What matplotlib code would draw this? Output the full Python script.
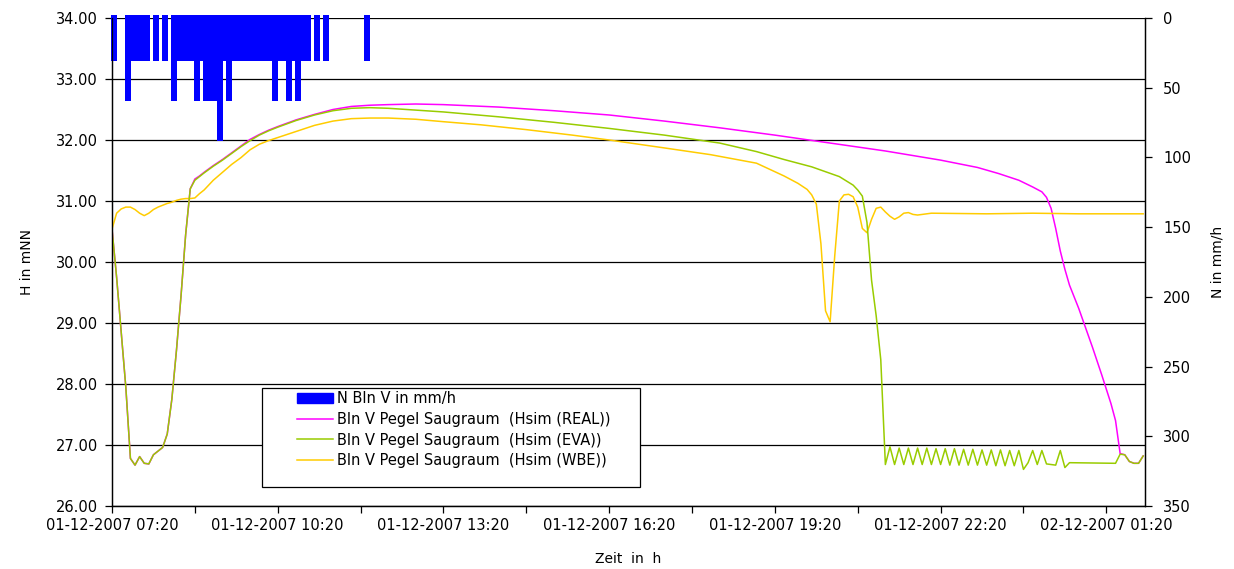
import datetime as dt
import matplotlib
matplotlib.use("Agg")
import matplotlib.pyplot as plt
import matplotlib.dates as mdates
from matplotlib.patches import Rectangle
from matplotlib.lines import Line2D
from matplotlib.ticker import FixedLocator, FormatStrFormatter

# ---------------- data ----------------
START = dt.datetime(2007, 12, 1, 7, 20)
END_MINUTES = 1122
RAIN_STEP_MINUTES = 5

x_tick_labels = ["01-12-2007 07:20", "01-12-2007 10:20", "01-12-2007 13:20",
                 "01-12-2007 16:20", "01-12-2007 19:20", "01-12-2007 22:20",
                 "02-12-2007 01:20"]
h_ticks = [26, 27, 28, 29, 30, 31, 32, 33, 34]
n_ticks = [0, 50, 100, 150, 200, 250, 300, 350]

# rain (N Bln V in mm/h), minutes after 07:20
rain_minutes = [0, 15, 20, 25, 30, 35, 45, 55,
                65, 70, 75, 80, 85, 90, 95, 100, 105, 110,
                115, 120, 125, 130, 135, 140, 145, 150, 155, 160,
                165, 170, 175, 180, 185, 190, 195, 200, 205, 210,
                220, 230, 275]
rain_values = [28.8, 57.6, 28.8, 28.8, 28.8, 28.8, 28.8, 28.8,
               57.6, 28.8, 28.8, 28.8, 28.8, 57.6, 28.8, 57.6, 57.6, 57.6,
               86.4, 28.8, 57.6, 28.8, 28.8, 28.8, 28.8, 28.8, 28.8, 28.8,
               28.8, 28.8, 57.6, 28.8, 28.8, 57.6, 28.8, 57.6, 28.8, 28.8,
               28.8, 28.8, 28.8]

# Hsim (REAL)
real_minutes = [0, 5, 10, 15, 20, 25, 30, 35, 40, 45, 50, 55, 60, 65, 70, 75,
                80, 85, 90, 95, 100, 110, 120, 130, 140, 150, 160, 170, 180,
                200, 220, 240, 260, 280, 300, 330, 360, 420, 480, 540, 600,
                660, 720, 780, 840, 900, 940, 963, 985, 1000, 1010, 1015,
                1020, 1025, 1030, 1035, 1040, 1050, 1065, 1075, 1085, 1090,
                1095, 1100, 1105, 1110, 1115, 1120]
real_values = [30.54, 29.75, 28.85, 27.95, 26.78, 26.67, 26.81, 26.70, 26.69,
               26.84, 26.90, 26.96, 27.18, 27.75, 28.55, 29.45, 30.45, 31.20,
               31.36, 31.41, 31.47, 31.58, 31.68, 31.79, 31.90, 32.01, 32.09,
               32.16, 32.22, 32.33, 32.42, 32.50, 32.55, 32.57, 32.58, 32.59,
               32.58, 32.54, 32.48, 32.41, 32.31, 32.20, 32.08, 31.95, 31.82,
               31.67, 31.55, 31.45, 31.34, 31.23, 31.15, 31.06, 30.88, 30.55,
               30.18, 29.88, 29.62, 29.24, 28.60, 28.15, 27.68, 27.40, 26.86,
               26.84, 26.73, 26.70, 26.70, 26.82]

# Hsim (EVA)
eva_minutes = [0, 5, 10, 15, 20, 25, 30, 35, 40, 45, 50, 55, 60, 65, 70, 75,
               80, 85, 90, 95, 100, 110, 120, 130, 140, 150, 160, 170, 180,
               200, 220, 240, 260, 280, 300, 330, 360, 420, 480, 540, 600,
               660, 700, 730, 760, 790, 805, 810, 815, 820, 825, 830, 835,
               840, 845, 850, 855, 860, 865, 870, 875, 880, 885, 890, 895,
               900, 905, 910, 915, 920, 925, 930, 935, 940, 945, 950, 955,
               960, 965, 970, 975, 980, 985, 990, 995, 1000, 1005, 1010,
               1015, 1020, 1025, 1030, 1035, 1040, 1090, 1095, 1100, 1105,
               1110, 1115, 1120]
eva_values = [30.54, 29.75, 28.85, 27.95, 26.78, 26.67, 26.81, 26.70, 26.69,
              26.84, 26.90, 26.96, 27.18, 27.75, 28.55, 29.45, 30.45, 31.20,
              31.34, 31.40, 31.46, 31.57, 31.67, 31.78, 31.89, 31.99, 32.08,
              32.15, 32.21, 32.32, 32.41, 32.48, 32.52, 32.53, 32.52, 32.49,
              32.46, 32.38, 32.29, 32.19, 32.08, 31.95, 31.81, 31.68, 31.56,
              31.40, 31.26, 31.18, 31.08, 30.65, 29.70, 29.12, 28.40,
              26.68, 26.97, 26.68, 26.95, 26.68, 26.95, 26.68, 26.95, 26.68,
              26.95, 26.68, 26.94, 26.68, 26.94, 26.67, 26.94, 26.67, 26.93,
              26.67, 26.93, 26.67, 26.92, 26.67, 26.92, 26.66, 26.92, 26.66,
              26.91, 26.66, 26.91, 26.60, 26.71, 26.91, 26.68, 26.91, 26.69,
              26.68, 26.67, 26.91, 26.63, 26.71, 26.70, 26.85, 26.84, 26.73,
              26.70, 26.70, 26.82]

# Hsim (WBE)
wbe_minutes = [0, 5, 10, 15, 20, 25, 30, 35, 40, 45, 50, 55, 60, 65, 70, 75,
               80, 85, 90, 95, 100, 105, 110, 120, 130, 140, 150, 160, 170,
               180, 200, 220, 240, 260, 280, 300, 330, 360, 400, 450, 500,
               540, 600, 650, 700, 720, 730, 740, 745, 750, 755, 760, 765,
               770, 775, 780, 785, 790, 795, 800, 805, 810, 815, 820, 825,
               830, 835, 840, 845, 850, 855, 860, 865, 870, 875, 880, 890,
               950, 1000, 1050, 1120]
wbe_values = [30.54, 30.80, 30.87, 30.90, 30.90, 30.86, 30.80, 30.76, 30.80,
              30.86, 30.90, 30.93, 30.96, 30.98, 31.01, 31.03, 31.04, 31.04,
              31.05, 31.12, 31.18, 31.26, 31.34, 31.47, 31.60, 31.71, 31.84,
              31.93, 31.99, 32.04, 32.14, 32.24, 32.31, 32.35, 32.36, 32.36,
              32.34, 32.30, 32.25, 32.17, 32.08, 32.00, 31.87, 31.76, 31.62,
              31.48, 31.41, 31.33, 31.29, 31.24, 31.19, 31.10, 30.95, 30.30,
              29.20, 29.02, 30.10, 31.00, 31.10, 31.11, 31.07, 30.90, 30.55,
              30.48, 30.70, 30.88, 30.90, 30.82, 30.75, 30.70, 30.74, 30.80,
              30.81, 30.78, 30.77, 30.78, 30.80, 30.79, 30.80, 30.79, 30.79]

legend_labels = ["N Bln V in mm/h",
                 "Bln V Pegel Saugraum  (Hsim (REAL))",
                 "Bln V Pegel Saugraum  (Hsim (EVA))",
                 "Bln V Pegel Saugraum  (Hsim (WBE))"]

# ---------------- style ----------------
C_RAIN = "#0000FF"
C_REAL = "#FF00FF"
C_EVA = "#99CC00"
C_WBE = "#FFCC00"
FS = 10
FS_TICK = 10.5

plt.rcParams["font.family"] = ["DejaVu Sans"]


def to_time(minutes):
    return [START + dt.timedelta(minutes=m) for m in minutes]


W, H = 1234, 569
fig = plt.figure(figsize=(W / 100, H / 100), dpi=100)
ax_l, ax_r, ax_b, ax_t = 112, 1145, 506, 18
ax = fig.add_axes([ax_l / W, 1 - ax_b / H, (ax_r - ax_l) / W, (ax_b - ax_t) / H])

lw = 1.1
ax.plot(to_time(real_minutes), real_values, color=C_REAL, lw=lw, zorder=3)
ax.plot(to_time(eva_minutes), eva_values, color=C_EVA, lw=lw, zorder=4)
ax.plot(to_time(wbe_minutes), wbe_values, color=C_WBE, lw=lw, zorder=3)

ax.set_ylim(h_ticks[0], h_ticks[-1])
ax.set_yticks(h_ticks)
ax.yaxis.set_major_formatter(FormatStrFormatter("%.2f"))
ax.grid(axis="y", color="black", lw=0.9)
ax.set_axisbelow(True)

x_ticks = [dt.datetime.strptime(s, "%d-%m-%Y %H:%M") for s in x_tick_labels]
ax.set_xlim(START, START + dt.timedelta(minutes=END_MINUTES))
ax.xaxis.set_major_locator(FixedLocator(mdates.date2num(x_ticks)))
ax.set_xticklabels(x_tick_labels)
minor = [a + (b - a) / 2 for a, b in zip(x_ticks[:-1], x_ticks[1:])]
ax.xaxis.set_minor_locator(FixedLocator(mdates.date2num(minor)))
ax.tick_params(axis="x", which="both", direction="out", length=5, width=0.9,
               labelsize=FS_TICK, pad=4)
ax.tick_params(axis="y", direction="out", length=5, width=0.9,
               labelsize=FS_TICK, pad=5)
for s in ax.spines.values():
    s.set_linewidth(0.9)
ax.spines["top"].set_visible(False)

ax.set_ylabel("H in mNN", fontsize=FS, labelpad=16)
ax.set_xlabel("Zeit  in  h", fontsize=FS, labelpad=13)

ax2 = ax.twinx()
rain_t = [START + dt.timedelta(minutes=m + RAIN_STEP_MINUTES / 2) for m in rain_minutes]
vl = ax2.vlines(rain_t, 0, rain_values, colors=C_RAIN, lw=4.3, clip_on=False,
                antialiased=False)
vl.set_capstyle("round")
ax2.set_ylim(n_ticks[-1], n_ticks[0])
ax2.set_yticks(n_ticks)
ax2.tick_params(axis="y", direction="out", length=5, width=0.9,
                labelsize=FS_TICK, pad=8)
ax2.spines["top"].set_visible(False)
for s in ax2.spines.values():
    s.set_linewidth(0.9)
ax2.set_ylabel("N in mm/h", fontsize=FS, labelpad=14)

# legend
handles = [Rectangle((0, 0), 1, 1, facecolor=C_RAIN, edgecolor=C_RAIN),
           Line2D([], [], color=C_REAL, lw=1.1),
           Line2D([], [], color=C_EVA, lw=1.1),
           Line2D([], [], color=C_WBE, lw=1.1)]
fig.legend(handles, legend_labels, loc="upper left",
           bbox_to_anchor=(297 / W, 1 - 391 / H), frameon=False, fontsize=10.5,
           borderpad=0, handlelength=2.5, handleheight=0.75, handletextpad=0.25,
           labelspacing=0.4, borderaxespad=0)
fig.add_artist(Rectangle((262 / W, 1 - 487 / H), (640 - 262) / W, (487 - 388) / H,
                         transform=fig.transFigure, facecolor="white",
                         edgecolor="black", lw=0.9, zorder=2))
fig.legends[0].set_zorder(3)

fig.savefig("out.png", dpi=100)
